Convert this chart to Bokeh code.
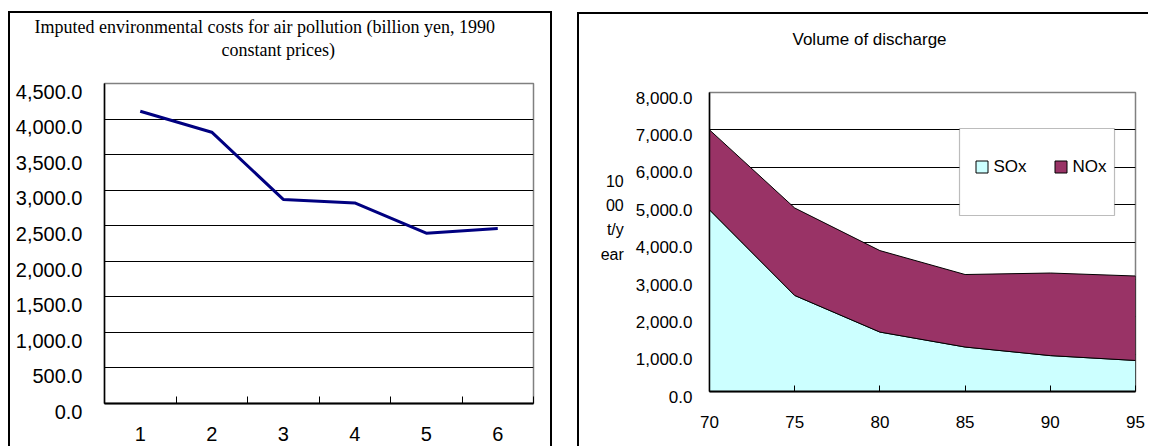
from bokeh.plotting import figure
from bokeh.models import (Range1d, FixedTicker, CustomJSTickFormatter, BoxAnnotation,
                          Legend, LegendItem, ColumnDataSource, Title)
from bokeh.layouts import row, column
from bokeh.embed import file_html
from bokeh.resources import INLINE
import numpy as np

# ---------------- data ----------------
cost_periods = [1, 2, 3, 4, 5, 6]
cost_values = [4110, 3815, 2870, 2820, 2395, 2460]
cost_ticks = [0, 500, 1000, 1500, 2000, 2500, 3000, 3500, 4000, 4500]
cost_title_1 = "Imputed environmental costs for air pollution (billion yen, 1990"
cost_title_2 = "constant prices)"

years = [70, 75, 80, 85, 90, 95]
sox = [4860, 2570, 1590, 1190, 960, 830]
nox = [2140, 2340, 2180, 1940, 2210, 2260]
series_names = ["SOx", "NOx"]
series_colors = ["#CCFFFF", "#993366"]
disc_ticks = [0, 1000, 2000, 3000, 4000, 5000, 6000, 7000, 8000]
disc_title = "Volume of discharge"
disc_unit = "10\n00\nt/y\near\n\n"

SANS = "Liberation Sans"
SERIF = "Liberation Serif"
BOX = "2px solid black"

# labels sit a little below their gridlines, as in the original
low_fmt = CustomJSTickFormatter(code="""
return '\\n' + tick.toLocaleString('en-US', {minimumFractionDigits: 1, maximumFractionDigits: 1});
""")

# ---------------- left chart ----------------
p1 = figure(width=544, height=435, output_backend="svg", toolbar_location=None,
            title_location=None,
            x_range=Range1d(0.5, 6.5), y_range=Range1d(0, cost_ticks[-1]),
            min_border_left=94, min_border_right=21, min_border_top=70, min_border_bottom=45)
p1.margin = (11, 0, 0, 8)
p1.styles = {"border-top": BOX, "border-left": BOX, "border-right": BOX}
p1.background_fill_color = "white"
p1.border_fill_alpha = 0
p1.outline_line_color = "#808080"
p1.outline_line_width = 1.5

p1.yaxis.ticker = FixedTicker(ticks=cost_ticks)
p1.yaxis.formatter = low_fmt
p1.yaxis.major_label_text_font = SANS
p1.yaxis.major_label_text_font_size = "20px"
p1.yaxis.major_label_text_line_height = 0.75
p1.yaxis.major_label_text_color = "black"
p1.yaxis.major_tick_out = 0
p1.yaxis.major_tick_in = 0
p1.yaxis.minor_tick_line_color = None
p1.yaxis.major_label_standoff = 22
p1.yaxis.axis_line_color = "black"
p1.yaxis.axis_line_width = 1.5

p1.xaxis.ticker = FixedTicker(ticks=cost_periods,
                              minor_ticks=[c - 0.5 for c in cost_periods] + [cost_periods[-1] + 0.5])
p1.xaxis.major_tick_line_color = None
p1.xaxis.major_tick_out = 0
p1.xaxis.major_tick_in = 0
p1.xaxis.minor_tick_in = 7
p1.xaxis.minor_tick_out = 0
p1.xaxis.minor_tick_line_color = "black"
p1.xaxis.minor_tick_line_width = 1
p1.xaxis.major_label_text_font = SANS
p1.xaxis.major_label_text_font_size = "20px"
p1.xaxis.major_label_text_color = "black"
p1.xaxis.major_label_standoff = 23
p1.xaxis.axis_line_color = "black"
p1.xaxis.axis_line_width = 2

p1.xgrid.visible = False
p1.ygrid.ticker = FixedTicker(ticks=cost_ticks[1:-1])
p1.ygrid.grid_line_color = "black"
p1.ygrid.grid_line_width = 1

p1.line(cost_periods, cost_values, line_color="#000080", line_width=3)

# second title line first (nearest the plot), trailing empty line lifts it
p1.add_layout(Title(text=cost_title_2 + "\n", align="left", offset=117, standoff=0,
                    text_line_height=1.2,
                    text_font=SERIF, text_font_size="18px", text_font_style="normal",
                    text_color="black"), "above")
p1.add_layout(Title(text=cost_title_1, align="left", offset=-70, standoff=2,
                    text_font=SERIF, text_font_size="18px", text_font_style="normal",
                    text_color="black"), "above")

# ---------------- right chart ----------------
p2 = figure(width=571, height=434, output_backend="svg", toolbar_location=None,
            title_location=None,
            x_range=Range1d(years[0], years[-1]), y_range=Range1d(0, disc_ticks[-1]),
            min_border_left=130, min_border_right=15, min_border_top=78, min_border_bottom=57)
p2.margin = (12, 0, 0, 25)
p2.styles = {"border-top": BOX, "border-left": BOX}
p2.background_fill_color = "white"
p2.border_fill_alpha = 0
p2.outline_line_color = "#808080"
p2.outline_line_width = 1.5

p2.yaxis.ticker = FixedTicker(ticks=disc_ticks)
p2.yaxis.formatter = low_fmt
p2.yaxis.major_label_text_font = SANS
p2.yaxis.major_label_text_font_size = "17px"
p2.yaxis.major_label_text_line_height = 0.6
p2.yaxis.major_label_text_color = "black"
p2.yaxis.major_tick_out = 0
p2.yaxis.major_tick_in = 0
p2.yaxis.minor_tick_line_color = None
p2.yaxis.major_label_standoff = 17
p2.yaxis.axis_line_color = "black"
p2.yaxis.axis_line_width = 1.5
p2.yaxis.axis_label = disc_unit
p2.yaxis.axis_label_orientation = "horizontal"
p2.yaxis.axis_label_text_font = SANS
p2.yaxis.axis_label_text_font_size = "16px"
p2.yaxis.axis_label_text_font_style = "normal"
p2.yaxis.axis_label_text_color = "black"
p2.yaxis.axis_label_text_line_height = 1.42
p2.yaxis.axis_label_text_align = "left"
p2.yaxis.axis_label_standoff = 9

p2.xaxis.ticker = FixedTicker(ticks=years)
p2.xaxis.major_tick_in = 6
p2.xaxis.major_tick_out = 0
p2.xaxis.major_tick_line_color = "black"
p2.xaxis.minor_tick_line_color = None
p2.xaxis.major_label_text_font = SANS
p2.xaxis.major_label_text_font_size = "17px"
p2.xaxis.major_label_text_color = "black"
p2.xaxis.major_label_standoff = 24
p2.xaxis.axis_line_color = "black"
p2.xaxis.axis_line_width = 2

p2.xgrid.visible = False
p2.ygrid.ticker = FixedTicker(ticks=disc_ticks[1:-1])
p2.ygrid.grid_line_color = "black"
p2.ygrid.grid_line_width = 1

# stacked areas as outlined polygons built from the series
sox_a = np.array(sox, dtype=float)
top_a = sox_a + np.array(nox, dtype=float)
xs_poly = [years + years[::-1], years + years[::-1]]
ys_poly = [list(sox_a) + [0.0] * len(years), list(top_a) + list(sox_a[::-1])]
area_src = ColumnDataSource(dict(xs=xs_poly, ys=ys_poly, color=series_colors, name=series_names))
areas = p2.patches("xs", "ys", fill_color="color", line_color="black", line_width=1,
                   source=area_src)

p2.add_layout(BoxAnnotation(left=378, right=533, top=112, bottom=199,
                            left_units="canvas", right_units="canvas",
                            top_units="canvas", bottom_units="canvas",
                            fill_color="white", fill_alpha=1, line_color="#222222",
                            line_width=1.2))

legend = Legend(items=[LegendItem(label=series_names[0], renderers=[areas], index=0),
                       LegendItem(label=series_names[1], renderers=[areas], index=1)],
                orientation="horizontal", location=(264.5, 214.5), padding=0, spacing=26,
                glyph_width=15, glyph_height=15, label_height=15, label_standoff=5,
                border_line_color=None, background_fill_alpha=0,
                label_text_font=SANS, label_text_font_size="17px", label_text_color="black")
p2.add_layout(legend)

p2.add_layout(Title(text=disc_title + "\n\n", align="left", offset=83, standoff=1,
                    text_line_height=1.14,
                    text_font=SANS, text_font_size="17px", text_font_style="normal",
                    text_color="black"), "above")

layout = row(column(p1), column(p2))
open("out.html", "w").write(file_html(layout, INLINE))
